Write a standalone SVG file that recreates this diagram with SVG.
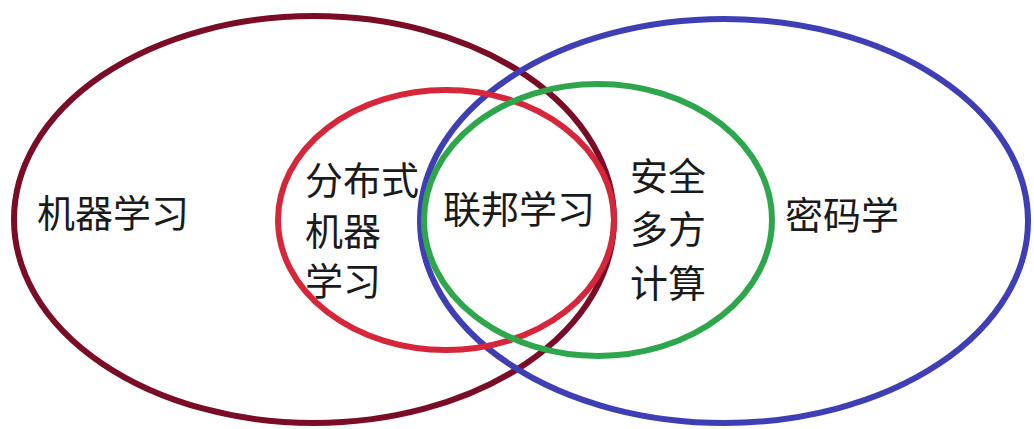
<svg xmlns="http://www.w3.org/2000/svg" width="1034" height="429" viewBox="0 0 1034 429">
<style>
.e{fill:none;stroke-width:6}
.t{font-family:"Noto Sans CJK SC","Liberation Sans",sans-serif;font-size:38px;fill:#1a1a1a;dominant-baseline:central}
</style>
<rect width="1034" height="429" fill="#ffffff"/>
<g id="ml"><ellipse class="e" cx="314" cy="219.5" rx="300" ry="203.5" stroke="#7a0c26"/><text class="t" x="37" y="210">机器学习</text></g>
<g id="crypto"><ellipse class="e" cx="724" cy="221" rx="304" ry="202" stroke="#3f3fb5"/><text class="t" x="785" y="212">密码学</text></g>
<g id="dml"><ellipse class="e" cx="446" cy="220" rx="168" ry="130" stroke="#d6263a"/><text class="t" x="305" y="177">分布式</text><text class="t" x="305" y="228">机器</text><text class="t" x="305" y="278">学习</text></g>
<g id="mpc"><ellipse class="e" cx="598" cy="220" rx="174" ry="136" stroke="#2ea64c"/><text class="t" x="630" y="173">安全</text><text class="t" x="630" y="226">多方</text><text class="t" x="630" y="280">计算</text></g>
<g id="fl"><text class="t" x="443" y="206">联邦学习</text></g>
<g id="connectors"/>
</svg>
